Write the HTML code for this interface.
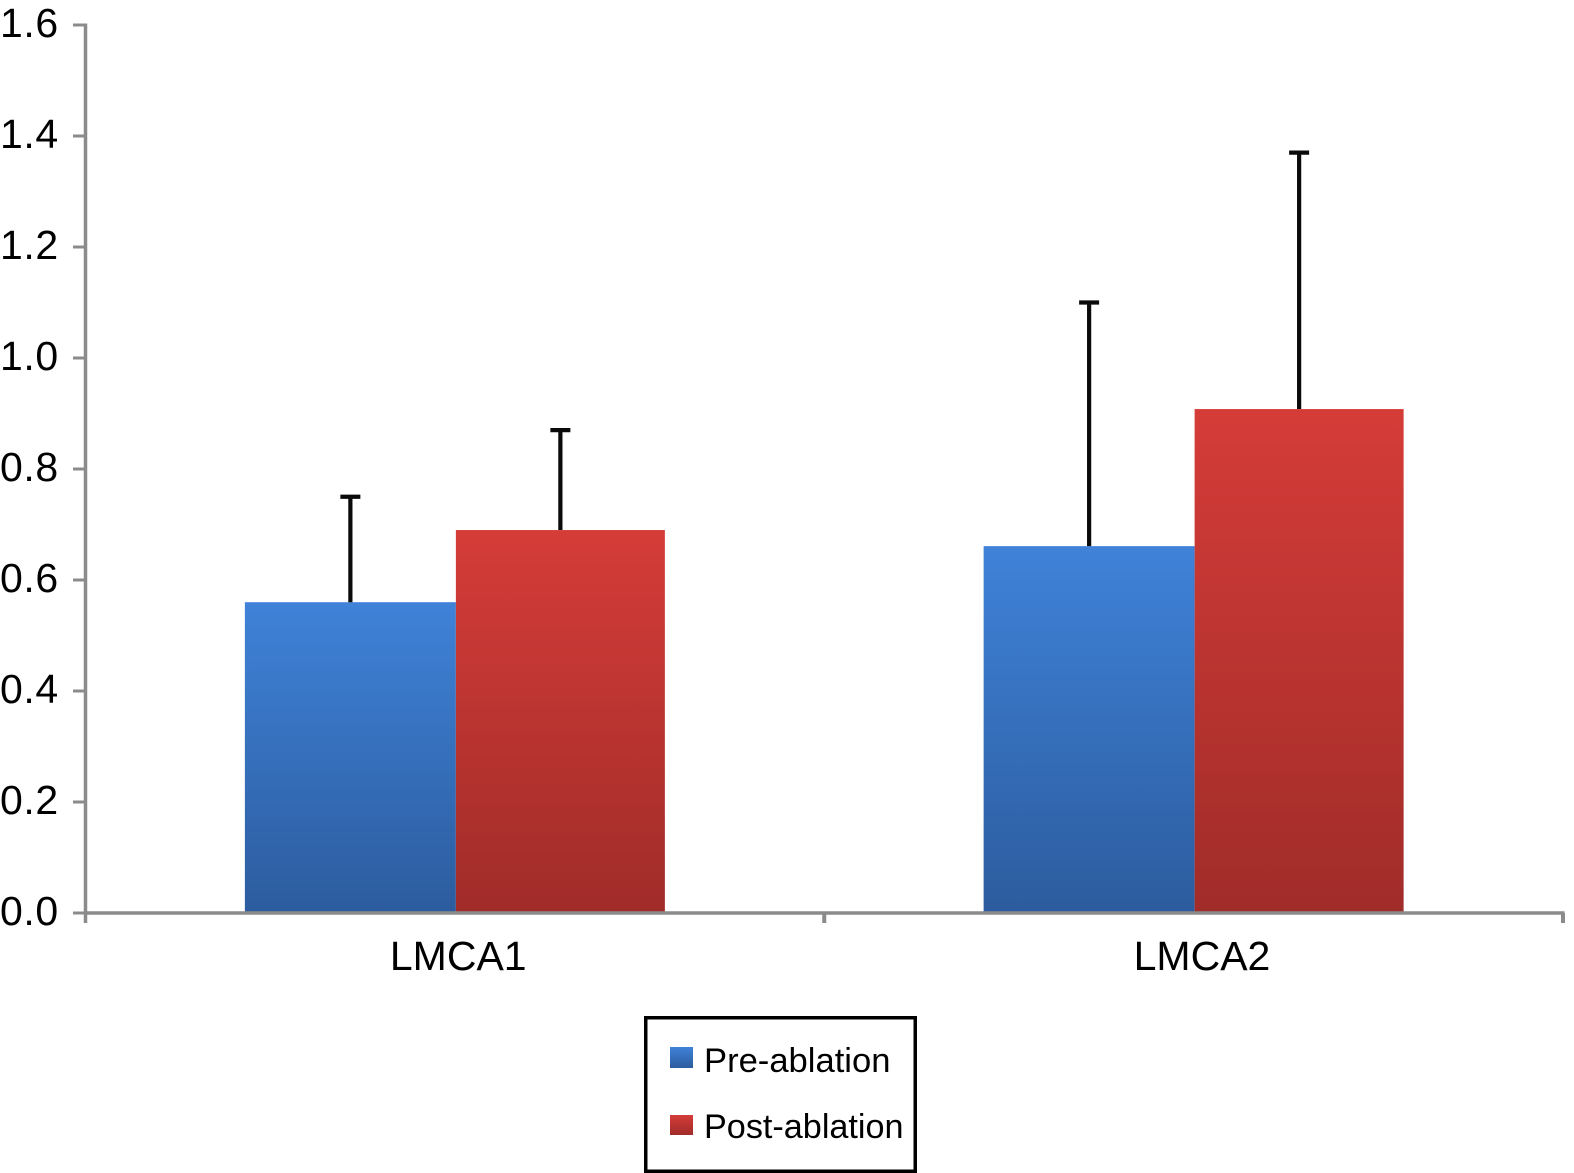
<!DOCTYPE html>
<html>
<head>
<meta charset="utf-8">
<title>LMCA1 and LMCA2 pre- and post-ablation bar chart</title>
<style>
html,body{margin:0;padding:0;background:#fff;}
svg{display:block;}
text{font-family:"Liberation Sans",Arial,sans-serif;fill:#000;}
</style>
</head>
<body>
<svg id="chart" xmlns="http://www.w3.org/2000/svg" width="1574" height="1173" viewBox="0 0 1574 1173">
  <defs>
    <linearGradient id="grad-pre" x1="0" y1="0" x2="0" y2="1">
      <stop offset="0" stop-color="#3f82d8"/>
      <stop offset="1" stop-color="#2c5c9e"/>
    </linearGradient>
    <linearGradient id="grad-post" x1="0" y1="0" x2="0" y2="1">
      <stop offset="0" stop-color="#d53c38"/>
      <stop offset="1" stop-color="#a02c29"/>
    </linearGradient>
  </defs>
  <g id="bars"></g>
  <g id="errors"></g>
  <g id="axes"></g>
  <g>
    <rect x="645.75" y="1017.75" width="269.5" height="153.5" fill="#fff" stroke="#000" stroke-width="3.5"/>
    <rect x="670" y="1047" width="23" height="21" fill="url(#grad-pre)"/>
    <text x="704" y="1072" font-size="34.6">Pre-ablation</text>
    <rect x="670" y="1115" width="23" height="20" fill="url(#grad-post)"/>
    <text x="704" y="1138" font-size="34.2">Post-ablation</text>
  </g>
</svg>
<script>
var categories = ["LMCA1", "LMCA2"];
var preValues = [0.56, 0.661];
var postValues = [0.69, 0.908];
var preUpper = [0.75, 1.10];
var postUpper = [0.87, 1.37];
var yTicks = [0, 0.2, 0.4, 0.6, 0.8, 1.0, 1.2, 1.4, 1.6];
var yTickLabels = ["0.0", "0.2", "0.4", "0.6", "0.8", "1.0", "1.2", "1.4", "1.6"];

var NS = "http://www.w3.org/2000/svg";
var plotLeft = 85.5, plotRight = 1563, plotBottom = 913, plotTop = 25, yMax = 1.6;
var barGap = 1;
var preWidth = 211;
var postWidth = 209;
var capHalf = 10;
var labelDrift = 5;

function yScale(v) {
  return plotBottom - (v / yMax) * (plotBottom - plotTop);
}
function bandWidth() {
  return (plotRight - plotLeft) / categories.length;
}
function xCenter(i) {
  return plotLeft + bandWidth() * (i + 0.5);
}
function make(tag, parent, attrs) {
  var el = document.createElementNS(NS, tag);
  for (var k in attrs) el.setAttribute(k, attrs[k]);
  parent.appendChild(el);
  return el;
}

var barsG = document.getElementById("bars");
var errorsG = document.getElementById("errors");
var axesG = document.getElementById("axes");
var axisColor = "#8b8b8b";

function drawSeries(values, uppers, offset, width, fill, seriesName) {
  values.forEach(function (v, i) {
    var left = xCenter(i) + offset;
    var top = yScale(v);
    var bar = make("rect", barsG, {x: left, y: top, width: width, height: plotBottom - top, fill: fill});
    
    

    var cx = left + width / 2;
    var upY = yScale(uppers[i]);
    var stem = make("line", errorsG, {x1: cx, x2: cx, y1: top, y2: upY, stroke: "#0a0a0a", "stroke-width": 4.2});
    
    

    var cap = make("line", errorsG, {x1: cx - capHalf, x2: cx + capHalf, y1: upY, y2: upY, stroke: "#0a0a0a", "stroke-width": 4.2});
    
    
  });
}
drawSeries(preValues, preUpper, barGap - preWidth, preWidth, "url(#grad-pre)", "pre-ablation");
drawSeries(postValues, postUpper, barGap, postWidth, "url(#grad-post)", "post-ablation");

var yAxis = make("line", axesG, {x1: plotLeft, x2: plotLeft, y1: plotTop - 1.5, y2: plotBottom + 10, stroke: axisColor, "stroke-width": 3.5});



var xAxis = make("line", axesG, {x1: plotLeft, x2: plotRight + 1.5, y1: plotBottom, y2: plotBottom, stroke: axisColor, "stroke-width": 3.5});



yTicks.forEach(function (t, i) {
  var y = yScale(t);
  var tick = make("line", axesG, {x1: 73, x2: plotLeft, y1: y, y2: y, stroke: axisColor, "stroke-width": 3});
  
  

  var label = make("text", axesG, {x: 0, y: y + 12, "font-size": 41, "letter-spacing": 0.6});
  label.textContent = yTickLabels[i];
  
  
});

for (var b = 1; b <= categories.length; b++) {
  var bx = plotLeft + bandWidth() * b;
  var xt = make("line", axesG, {x1: bx, x2: bx, y1: plotBottom, y2: plotBottom + 10, stroke: axisColor, "stroke-width": 4});
  
  
}

categories.forEach(function (c, i) {
  var lab = make("text", axesG, {x: xCenter(i) - 65 + i * labelDrift, y: 970, "font-size": 41});
  lab.textContent = c;
  
  
});
</script>
</body>
</html>
